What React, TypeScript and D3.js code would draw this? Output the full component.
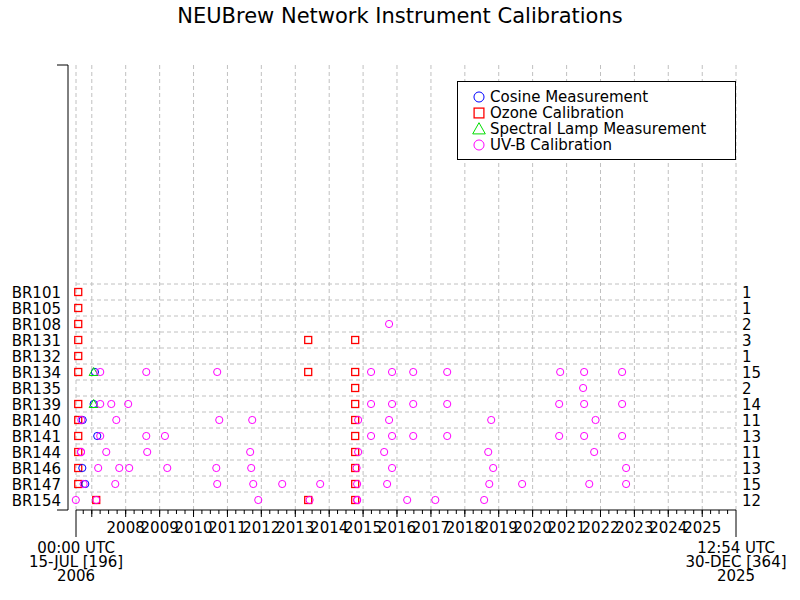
import React from "react";
import * as d3 from "d3";

// instruments (top to bottom) and their total number of events
const instruments = ["BR101", "BR105", "BR108", "BR131", "BR132", "BR134", "BR135", "BR139", "BR140", "BR141", "BR144", "BR146", "BR147", "BR154"];
const counts = [1, 1, 2, 3, 1, 15, 2, 14, 11, 13, 11, 13, 15, 12];

// [instrument, date]
const cosine: [string, string][] = [
  ["BR134", "2007-02-04"], ["BR139", "2007-01-21"], ["BR140", "2006-09-25"],
  ["BR141", "2007-03-01"], ["BR146", "2006-09-21"], ["BR147", "2006-10-23"],
];

const ozone: [string, string][] = [
  ["BR101", "2006-08-08"], ["BR105", "2006-08-08"], ["BR108", "2006-08-08"],
  ["BR131", "2006-08-08"], ["BR131", "2013-05-20"], ["BR131", "2014-10-08"],
  ["BR132", "2006-08-08"],
  ["BR134", "2006-08-08"], ["BR134", "2013-05-20"], ["BR134", "2014-10-08"],
  ["BR135", "2014-10-08"],
  ["BR139", "2006-08-08"], ["BR139", "2014-10-08"],
  ["BR140", "2006-08-08"], ["BR140", "2014-10-08"],
  ["BR141", "2006-08-08"], ["BR141", "2014-10-08"],
  ["BR144", "2006-08-08"], ["BR144", "2014-10-08"],
  ["BR146", "2006-08-08"], ["BR146", "2014-10-08"],
  ["BR147", "2006-08-08"], ["BR147", "2014-10-08"],
  ["BR154", "2007-02-18"], ["BR154", "2013-05-20"], ["BR154", "2014-10-08"],
];

const spectral: [string, string][] = [
  ["BR134", "2007-01-21"], ["BR139", "2007-01-21"],
];

const uvb: [string, string][] = [
  ["BR108", "2015-10-08"],
  ["BR134", "2007-04-02"], ["BR134", "2008-08-10"], ["BR134", "2010-09-13"], ["BR134", "2015-03-28"], ["BR134", "2015-11-09"],
  ["BR134", "2016-06-24"], ["BR134", "2017-06-25"], ["BR134", "2020-10-24"], ["BR134", "2021-07-09"], ["BR134", "2022-08-22"],
  ["BR135", "2021-06-28"],
  ["BR139", "2007-04-02"], ["BR139", "2007-07-30"], ["BR139", "2008-01-28"], ["BR139", "2015-03-28"], ["BR139", "2015-11-09"],
  ["BR139", "2016-06-24"], ["BR139", "2017-06-25"], ["BR139", "2020-10-13"], ["BR139", "2021-07-09"], ["BR139", "2022-08-22"],
  ["BR140", "2006-09-10"], ["BR140", "2007-09-22"], ["BR140", "2010-10-05"], ["BR140", "2011-09-25"], ["BR140", "2014-11-09"],
  ["BR140", "2015-10-08"], ["BR140", "2018-10-12"], ["BR140", "2021-11-09"],
  ["BR141", "2007-04-02"], ["BR141", "2008-08-10"], ["BR141", "2009-02-27"], ["BR141", "2015-03-28"], ["BR141", "2015-11-09"],
  ["BR141", "2016-06-24"], ["BR141", "2017-06-25"], ["BR141", "2020-10-13"], ["BR141", "2021-07-09"], ["BR141", "2022-08-22"],
  ["BR144", "2006-09-07"], ["BR144", "2006-09-07"], ["BR144", "2007-06-06"], ["BR144", "2008-08-20"], ["BR144", "2011-09-03"],
  ["BR144", "2014-11-09"], ["BR144", "2015-08-16"], ["BR144", "2018-09-10"], ["BR144", "2021-10-25"],
  ["BR146", "2007-03-11"], ["BR146", "2007-10-24"], ["BR146", "2008-02-08"], ["BR146", "2009-03-24"], ["BR146", "2010-09-03"],
  ["BR146", "2011-09-14"], ["BR146", "2014-10-23"], ["BR146", "2015-11-09"], ["BR146", "2018-11-02"], ["BR146", "2022-10-04"],
  ["BR147", "2006-10-05"], ["BR147", "2007-09-11"], ["BR147", "2010-09-13"], ["BR147", "2011-10-06"], ["BR147", "2012-08-13"],
  ["BR147", "2013-09-26"], ["BR147", "2014-10-29"], ["BR147", "2015-09-17"], ["BR147", "2018-09-21"], ["BR147", "2019-09-10"],
  ["BR147", "2021-09-02"], ["BR147", "2022-10-04"],
  ["BR154", "2006-07-13"], ["BR154", "2007-02-18"], ["BR154", "2011-11-29"], ["BR154", "2013-06-04"], ["BR154", "2014-10-29"],
  ["BR154", "2014-10-29"], ["BR154", "2016-04-20"], ["BR154", "2017-02-17"], ["BR154", "2018-07-28"],
];

const legendLabels = ["Cosine Measurement", "Ozone Calibration", "Spectral Lamp Measurement", "UV-B Calibration"];

const startDate = new Date(Date.UTC(2006, 6, 15, 0, 0));
const endDate = new Date(Date.UTC(2025, 11, 30, 12, 54));
const startLabel = ["00:00 UTC", "15-JUL [196]", "2006"];
const endLabel = ["12:54 UTC", "30-DEC [364]", "2025"];

const FONT = "DejaVu Sans";
const parse = d3.utcParse("%Y-%m-%d");

const Marker = ({ kind, x, y, s = 1 }: { kind: string; x: number; y: number; s?: number }) => {
  if (kind === "cosine") return <circle cx={x} cy={y} r={3.6 * s} fill="none" stroke="#0000ff" />;
  if (kind === "ozone")
    return <rect x={x - 3.5 * s} y={y - 3.5 * s} width={7 * s} height={7 * s} fill="none" stroke="#ff0000" strokeWidth={1.3} />;
  if (kind === "spectral")
    return <path d={`M${x},${y - 4.5 * s}L${x + 4.5 * s},${y + 3.5 * s}L${x - 4.5 * s},${y + 3.5 * s}Z`} fill="none" stroke="#00dd00" />;
  return <circle cx={x} cy={y} r={3.6 * s} fill="none" stroke="#ff00ff" />;
};

export default function App() {
  const width = 800;
  const height = 600;
  const axisY = 510;

  const x = d3.scaleUtc().domain([startDate, endDate]).range([76, 736]);
  const y = d3.scalePoint<string>().domain(instruments).range([292, 500]);

  const years = d3.utcYear.range(startDate, endDate);
  const quarters = d3.utcMonth.every(3)!.range(startDate, endDate);

  const series: [string, [string, string][]][] = [
    ["ozone", ozone],
    ["cosine", cosine],
    ["spectral", spectral],
    ["uvb", uvb],
  ];
  const legendKinds = ["cosine", "ozone", "spectral", "uvb"];

  return (
    <svg width={width} height={height} style={{ position: "absolute", left: 0, top: 0, background: "#fff" }} fontFamily={FONT}>
      <rect width={width} height={height} fill="#fff" />
      <text x={400} y={23} textAnchor="middle" fontSize={21}>NEUBrew Network Instrument Calibrations</text>

      {/* grid */}
      <g stroke="#c0c0c0" strokeDasharray="4,3">
        {[startDate, ...years, endDate].map((d, i) => (
          <line key={i} x1={x(d)} x2={x(d)} y1={65} y2={axisY} />
        ))}
        {instruments.map((b) => (
          <line key={b} x1={76} x2={736} y1={y(b)! - 8} y2={y(b)! - 8} />
        ))}
      </g>

      {/* y axis */}
      <path d={`M57,65H68V${axisY}H57`} fill="none" stroke="#000" />
      {instruments.map((b, i) => (
        <g key={b} fontSize={15}>
          <text x={61} y={y(b)! + 5.5} textAnchor="end">{b}</text>
          <text x={742} y={y(b)! + 5.5}>{counts[i]}</text>
        </g>
      ))}

      {/* x axis */}
      <g stroke="#000">
        <line x1={76} x2={736} y1={axisY} y2={axisY} />
        <line x1={76} x2={76} y1={axisY} y2={537} />
        <line x1={736} x2={736} y1={axisY} y2={537} />
        {quarters.map((d, i) => (
          <line key={"q" + i} x1={x(d)} x2={x(d)} y1={axisY} y2={axisY + 4} />
        ))}
        {years.map((d, i) => (
          <line key={"y" + i} x1={x(d)} x2={x(d)} y1={axisY} y2={axisY + 7} />
        ))}
      </g>
      {years
        .filter((d) => d.getUTCFullYear() >= 2008)
        .map((d) => (
          <text key={d.toISOString()} x={x(d)} y={533} textAnchor="middle" fontSize={15}>
            {d.getUTCFullYear()}
          </text>
        ))}
      {startLabel.map((t, i) => (
        <text key={"s" + i} x={76} y={553 + i * 14.2} textAnchor="middle" fontSize={15}>{t}</text>
      ))}
      {endLabel.map((t, i) => (
        <text key={"e" + i} x={736} y={553 + i * 14.2} textAnchor="middle" fontSize={15}>{t}</text>
      ))}

      {/* markers */}
      {series.map(([kind, rows]) =>
        rows.map(([b, d], i) => <Marker key={kind + i} kind={kind} x={x(parse(d)!)} y={y(b)!} />)
      )}

      {/* legend */}
      <rect x={457.5} y={81.5} width={278} height={78} fill="#fff" stroke="#000" />
      {legendLabels.map((t, i) => (
        <g key={t}>
          <Marker kind={legendKinds[i]} x={479} y={97 + i * 16} s={1.4} />
          <text x={490} y={102 + i * 16} fontSize={15}>{t}</text>
        </g>
      ))}
    </svg>
  );
}
